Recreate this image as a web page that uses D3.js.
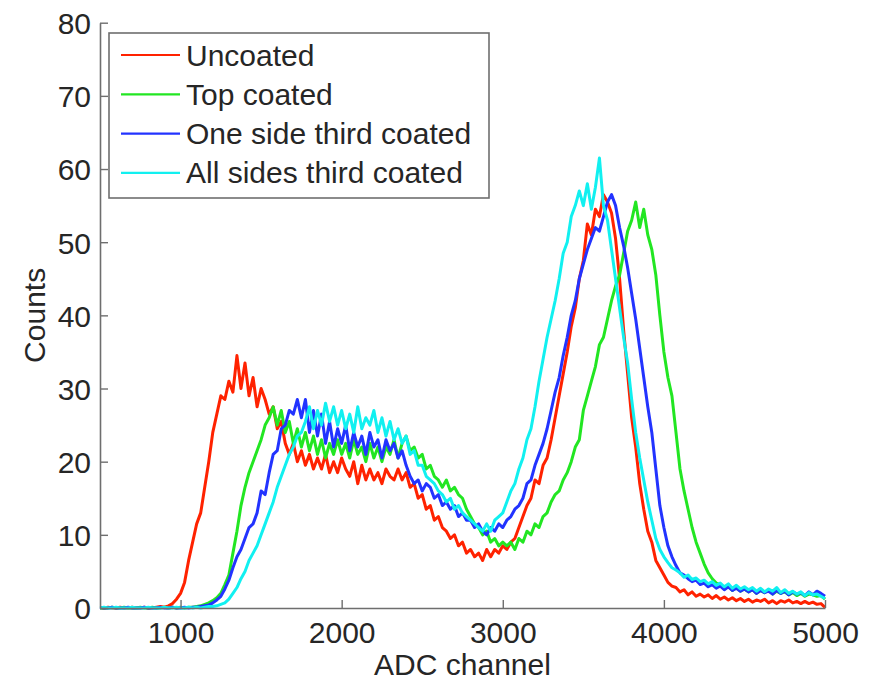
<!DOCTYPE html>
<html>
<head>
<meta charset="utf-8">
<script src="https://cdn.jsdelivr.net/npm/d3@7"></script>
<style>
  body { margin: 0; background: #fff; }
  text { font-family: "Liberation Sans", Arial, sans-serif; fill: #262626; }
</style>
</head>
<body>
<div id="chart"></div>
<script>
// ADC channel bins (step 25), 500 .. 5000
const channels = d3.range(500, 5001, 25);

const seriesNames = ["Uncoated", "Top coated", "One side third coated", "All sides third coated"];
const seriesColors = ["#ff2200", "#22e622", "#2233ff", "#11f0f0"];

const xTicks = [1000, 2000, 3000, 4000, 5000];
const yTicks = [0, 10, 20, 30, 40, 50, 60, 70, 80];

// counts per bin (10 bins per row = 250 channels)
const uncoated = [
  0, 0, 0.1, 0, 0, 0.1, 0, 0, 0.1, 0,
  0, 0.1, 0, 0, 0.1, 0.2, 0.1, 0.3, 0.6, 1.2,
  2.0, 3.5, 6.5, 9, 11.5, 13, 16.5, 20, 24, 26.5,
  29, 28.5, 31, 29.5, 34.5, 30, 33.5, 29, 31.5, 27.5,
  30, 28.5, 26.5, 27.5, 24.5, 25.5, 22.5, 21, 22.5, 20,
  21.5, 19.5, 21, 19, 20.5, 19, 21, 18.5, 20, 18.5,
  20.5, 19, 18, 20, 17, 19.5, 17.5, 19, 17.5, 18.5,
  17, 19, 18, 17.5, 19, 17.5, 18.5, 16.5, 17, 15,
  15.5, 13.5, 14, 12, 12.5, 11, 10.5, 9.5, 10, 8.5,
  9, 7.5, 8, 7, 7.5, 6.5, 8, 7, 8, 7.5,
  8.5, 8, 9, 9.5, 11, 12.5, 14, 15, 17.5, 17,
  19.5, 20.5, 23, 26, 29, 32, 35, 38.5, 41, 45,
  47.5, 52.5, 51, 54.5, 53.5, 56.5, 55.5, 54, 50.5, 45,
  38, 32, 26, 22, 17, 13.5, 10.5, 9, 6.5, 5.5,
  4.5, 3.5, 3, 2.8, 2.2, 2.5, 1.8, 2.2, 1.6, 1.9,
  1.5, 1.8, 1.3, 1.7, 1.2, 1.5, 1.1, 1.4, 1.0, 1.3,
  0.9, 1.2, 0.8, 1.1, 0.9, 1.2, 0.7, 1.0, 0.6, 1.0,
  0.8, 1.1, 0.7, 0.9, 0.6, 0.9, 0.6, 0.8, 0.5, 0.6,
  0.1
];
const topCoated = [
  0, 0, 0, 0.1, 0, 0, 0.1, 0, 0, 0,
  0.1, 0, 0, 0.1, 0, 0, 0.1, 0, 0.1, 0,
  0.1, 0, 0.1, 0.1, 0.2, 0.3, 0.5, 0.7, 1.0, 1.4,
  2.0, 3.2, 4.5, 7.5, 10.5, 14, 16.5, 18.5, 20, 21.5,
  23, 25, 26, 27.5, 25, 27, 24, 25.5, 22.5, 24.5,
  22, 24, 21.5, 23.5, 21, 23, 20.5, 22.5, 21, 23,
  21, 22.5, 20.5, 23, 21, 22, 20, 22.5, 20.5, 22,
  20, 22, 21, 23, 20.5, 22.5, 23.5, 21.5, 22, 20.5,
  21, 19, 19.5, 18, 17.5, 16.5, 17.5, 16, 16.5, 15.5,
  15, 13.5, 12.5, 11.5, 11, 10, 10.5, 9, 9.5, 8.5,
  9, 8.5, 9, 8, 9.5, 9, 10.5, 10, 11.5, 11,
  12.5, 13, 14.5, 15.5, 16, 17.5, 18.5, 20, 22, 23,
  27, 29, 31, 33, 36, 37, 39.5, 42, 44, 45.5,
  48.5, 51.5, 53, 55.5, 52, 54.5, 51, 49, 45.5, 40,
  35, 31.5, 29, 24, 19, 16, 13.5, 11, 9, 7.5,
  6, 4.8, 4, 3.4, 3.2, 2.6, 3, 2.4, 2.8, 2.3,
  2.6, 2.2, 2.5, 2.0, 2.4, 2.1, 2.5, 1.9, 2.3, 2.0,
  2.2, 1.8, 2.1, 1.7, 2.0, 1.6, 1.9, 1.8, 1.6, 1.7,
  1.2
];
const oneSide = [
  0.1, 0, 0, 0.1, 0, 0, 0, 0.1, 0, 0,
  0, 0.1, 0, 0, 0, 0.1, 0, 0, 0.1, 0,
  0, 0.1, 0, 0.1, 0.1, 0.2, 0.3, 0.4, 0.7, 1.1,
  1.6, 2.6, 3.8, 5.5, 7, 8, 9.5, 11, 11.5, 13,
  16, 15.5, 18.5, 21, 21.5, 24.5, 25, 27, 26.5, 28.5,
  26, 28.5, 24, 27, 23.5, 26.5, 22.5, 25.5, 22, 24.5,
  22.5, 25, 21.5, 24, 22, 23.5, 21, 24, 22, 23,
  20.5, 23, 21.5, 22.5, 20.5, 21.5, 19.5, 18, 17, 17.5,
  16, 17, 16.5, 15, 15.5, 14, 14.5, 13.5, 14, 12.5,
  13, 12, 12, 11, 11.5, 10.5, 10, 11, 10.5, 11.5,
  11, 12, 12.5, 13.5, 14, 15, 17, 17.5, 19.5, 21,
  22.5, 24.5, 27, 29.5, 31.5, 34.5, 37, 40, 42, 45,
  47, 49, 50.5, 52, 51.5, 53.5, 55.5, 56.5, 55, 52,
  49.5, 46.5, 43, 39.5, 35.5, 31.5, 27.5, 24, 19, 14,
  11, 8.5, 7, 5.8, 4.8, 4.5, 4, 3.6, 3.8, 3.2,
  3.4, 2.9, 3.2, 2.7, 3.0, 2.5, 2.9, 2.4, 2.7, 2.3,
  2.6, 2.2, 2.5, 2.0, 2.4, 2.1, 2.3, 1.9, 2.4, 2.0,
  2.3, 1.8, 2.2, 1.9, 2.1, 1.7, 2.2, 1.8, 2.3, 2.0,
  1.6
];
const allSides = [
  0, 0.1, 0, 0, 0.1, 0, 0, 0, 0.1, 0,
  0, 0, 0.1, 0, 0, 0, 0.1, 0, 0, 0.1,
  0, 0, 0.1, 0, 0.1, 0, 0.1, 0.2, 0.2, 0.3,
  0.5, 0.7, 1.2, 2, 2.8, 4, 5, 6.5, 7.5, 8.5,
  10, 11.5, 13, 14.5, 16.5, 18, 19.5, 21, 22, 23.5,
  24, 25.5, 27.5, 24.5, 27, 25, 28, 25.5, 27.5, 25,
  27, 24.5, 26.5, 24, 27.5, 24.5, 26, 25, 27, 24,
  26, 23.5, 25.5, 23, 24.5, 22.5, 23.5, 21, 21.5, 19.5,
  19.5, 18, 17.5, 17, 16, 15.5, 14.5, 15, 13.5, 14,
  13, 12.5, 12, 11.5, 11, 10.5, 11.5, 10.5, 12, 12.5,
  13, 14.5, 16, 17, 19, 20.5, 23, 24.5, 27.5, 31,
  34, 37, 39.5, 42, 45, 48.5, 50, 53.5, 55, 57,
  55, 58, 54.5, 57.5, 61.5, 55, 53, 49, 45, 41,
  37, 33.5, 28.5, 24, 20.5, 17.5, 14.5, 12, 9.5, 8,
  7, 6.2, 5.5, 5.2, 4.8, 4.2, 4.5, 3.9, 4.1, 3.6,
  3.8, 3.3, 3.6, 3.1, 3.4, 2.9, 3.3, 2.7, 3.1, 2.6,
  2.9, 2.5, 2.8, 2.3, 2.7, 2.2, 2.6, 2.3, 2.8, 2.1,
  2.5, 2.0, 2.3, 1.9, 2.2, 1.7, 2.1, 1.8, 1.9, 1.6,
  1.3
];
const seriesValues = [uncoated, topCoated, oneSide, allSides];

const width = 877, height = 680;
const plotLeft = 100, plotRight = 825, plotTop = 22.7, plotBottom = 608;
const axisColor = "#6e6e6e";
const fontSize = 30;

const svg = d3.select("#chart").append("svg")
  .attr("width", width)
  .attr("height", height);

const x = d3.scaleLinear().domain([500, 5000]).range([plotLeft, plotRight]);
const y = d3.scaleLinear().domain([0, 80]).range([plotBottom, plotTop]);

// curves, drawn in legend order so cyan ends up on top
const line = d3.line()
  .x((d, i) => x(channels[i]))
  .y(d => y(d));

seriesValues.forEach((vals, k) => {
  svg.append("path")
    .datum(vals)
    .attr("fill", "none")
    .attr("stroke", seriesColors[k])
    .attr("stroke-width", 3)
    .attr("stroke-linejoin", "round")
    .attr("d", line);
});

// x axis, matlab style ticks pointing inwards
const xAxis = svg.append("g")
  .attr("transform", "translate(0," + plotBottom + ")")
  .call(d3.axisBottom(x).tickValues(xTicks).tickFormat(d3.format("d"))
    .tickSizeInner(-8).tickSizeOuter(0).tickPadding(0));
xAxis.select(".domain").attr("stroke", axisColor).attr("stroke-width", 1.6);
xAxis.selectAll(".tick line").attr("stroke", axisColor).attr("stroke-width", 1.4);
xAxis.selectAll(".tick text")
  .attr("y", 35)
  .attr("dy", null)
  .style("font-size", fontSize + "px")
  .style("font-family", "'Liberation Sans', Arial, sans-serif")
  .attr("fill", "#262626");

const yAxis = svg.append("g")
  .attr("transform", "translate(" + plotLeft + ",0)")
  .call(d3.axisLeft(y).tickValues(yTicks).tickSizeInner(-8).tickSizeOuter(0).tickPadding(0));
yAxis.select(".domain").attr("stroke", axisColor).attr("stroke-width", 1.6);
yAxis.selectAll(".tick line").attr("stroke", axisColor).attr("stroke-width", 1.4);
yAxis.selectAll(".tick text")
  .attr("x", -9)
  .attr("dy", "0.36em")
  .style("font-size", fontSize + "px")
  .style("font-family", "'Liberation Sans', Arial, sans-serif")
  .attr("fill", "#262626");

// axis titles
svg.append("text")
  .attr("x", (plotLeft + plotRight) / 2)
  .attr("y", 675)
  .attr("text-anchor", "middle")
  .style("font-size", fontSize + "px")
  .text("ADC channel");

svg.append("text")
  .attr("transform", "translate(45," + (plotTop + plotBottom) / 2 + ") rotate(-90)")
  .attr("text-anchor", "middle")
  .style("font-size", fontSize + "px")
  .text("Counts");

// legend
const legend = svg.append("g");
legend.append("rect")
  .attr("x", 109).attr("y", 33)
  .attr("width", 380).attr("height", 165)
  .attr("fill", "#fff")
  .attr("stroke", axisColor)
  .attr("stroke-width", 1.6);

seriesNames.forEach((name, k) => {
  const ry = 55 + k * 39.3;
  legend.append("line")
    .attr("x1", 121).attr("x2", 180)
    .attr("y1", ry).attr("y2", ry)
    .attr("stroke", seriesColors[k])
    .attr("stroke-width", 2.2);
  legend.append("text")
    .attr("x", 186)
    .attr("y", ry + 10.5)
    .style("font-size", fontSize + "px")
    .text(name);
});
</script>
</body>
</html>
